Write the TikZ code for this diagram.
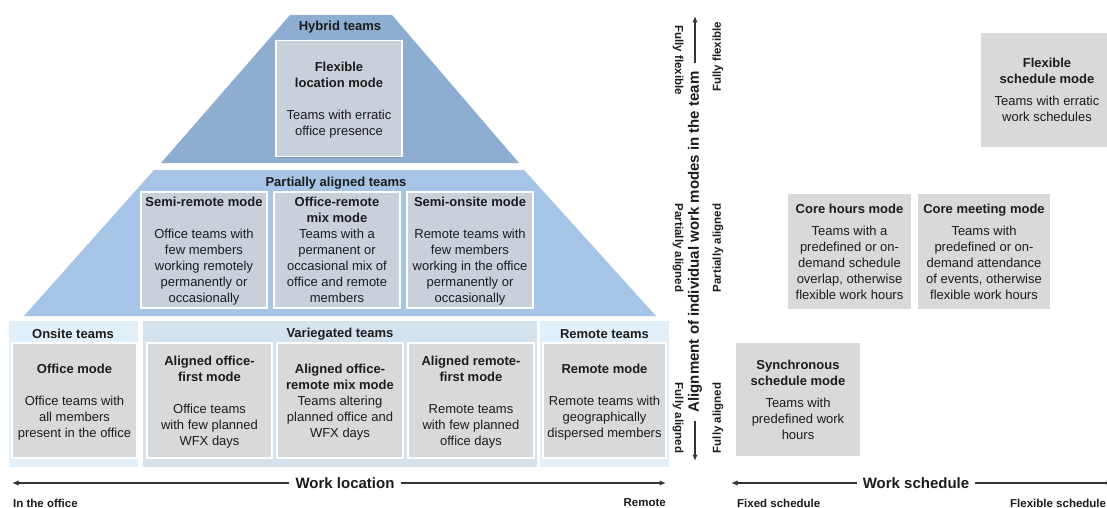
\documentclass[tikz,border=0pt]{standalone}
\usepackage{fontspec}
\setmainfont{Liberation Sans}
\usetikzlibrary{shadows,arrows.meta}

\definecolor{topblue}{HTML}{8DADD1}
\definecolor{midblue}{HTML}{A6C5E6}
\definecolor{palepanel}{HTML}{E1F0FB}
\definecolor{varpanel}{HTML}{D4E2EE}
\definecolor{modeonblue}{HTML}{C8D0D9}
\definecolor{modegray}{HTML}{D8D9DA}
\definecolor{ink}{HTML}{1C1C1C}
\definecolor{axisink}{HTML}{333333}

\tikzset{
  bodyfont/.style={font=\fontsize{13}{16}\selectfont},
  modebox/.style={bodyfont, draw=white, line width=1.2pt, inner sep=0pt,
    minimum width=126pt, minimum height=116pt, align=center, fill=modegray,
    drop shadow={shadow xshift=0.8pt, shadow yshift=-1.4pt, opacity=0.3, fill=black!60}},
  % location modes sit a little lower in their boxes
  locbox/.style={modebox, text depth=-8pt},
  teamtitle/.style={font=\fontsize{13}{16}\selectfont\bfseries, inner sep=0pt},
  axistitle/.style={font=\fontsize{15}{18}\selectfont\bfseries, inner xsep=6pt, inner ysep=0pt},
  sidelabel/.style={font=\fontsize{11.5}{14}\selectfont\bfseries, inner sep=0pt},
  axisarrow/.style={draw=axisink, line width=1.3pt, -{Latex[length=6.5pt,width=5.5pt]}}
}

\begin{document}
\begin{tikzpicture}[x=1pt, y=-1pt, text=ink]
\useasboundingbox (0,0) rectangle (1107,508);
\clip (0,0) rectangle (1107,508);
\fill[white] (0,0) rectangle (1107,508);

% ---------- pyramid of work-location modes ----------
\fill[topblue] (290,15) -- (392,15) -- (519,163) -- (161,163) -- cycle;
\fill[midblue] (154,170) -- (524,170) -- (656,316) -- (24,316) -- cycle;

\node[teamtitle] (hybridT) at (340,27) {Hybrid teams};
\node[locbox, fill=modeonblue] (flexloc) at (339,98.5)
  {\textbf{Flexible}\\\textbf{location mode}\\[16pt]Teams with erratic\\office presence};

\node[teamtitle] (partT) at (336,183) {Partially aligned teams};
\node[locbox, fill=modeonblue] (semiremote) at (204,250)
  {\textbf{Semi-remote mode}\\[16pt]Office teams with\\few members\\working remotely\\permanently or\\occasionally};
\node[locbox, fill=modeonblue] (officeremote) at (337,250)
  {\textbf{Office-remote}\\\textbf{mix mode}\\Teams with a\\permanent or\\occasional mix of\\office and remote\\members};
\node[locbox, fill=modeonblue] (semionsite) at (470,250)
  {\textbf{Semi-onsite mode}\\[16pt]Remote teams with\\few members\\working in the office\\permanently or\\occasionally};

% bottom tier panels
\fill[palepanel] (9,321) rectangle (138,467);
\fill[varpanel] (143,321) rectangle (537,467);
\fill[palepanel] (540,321) rectangle (669,467);

\node[teamtitle] (onsiteT) at (73,334) {Onsite teams};
\node[teamtitle] (varT) at (340,334) {Variegated teams};
\node[teamtitle] (remoteT) at (604.5,334) {Remote teams};

\node[locbox, minimum width=125pt, minimum height=115pt] (office) at (74.5,400.5)
  {\textbf{Office mode}\\[16pt]Office teams with\\all members\\present in the office};
\node[locbox, minimum width=125pt, minimum height=115pt] (alofffirst) at (209.5,400.5)
  {\textbf{Aligned office-}\\\textbf{first mode}\\[16pt]Office teams\\with few planned\\WFX days};
\node[locbox, minimum height=115pt] (almix) at (340,400.5)
  {\textbf{Aligned office-}\\\textbf{remote mix mode}\\Teams altering\\planned office and\\WFX days};
\node[locbox, minimum height=115pt] (alremfirst) at (471,400.5)
  {\textbf{Aligned remote-}\\\textbf{first mode}\\[16pt]Remote teams\\with few planned\\office days};
\node[locbox, minimum width=123pt, minimum height=115pt] (remote) at (604.5,400.5)
  {\textbf{Remote mode}\\[16pt]Remote teams with\\geographically\\dispersed members};

% ---------- work-location axis ----------
\coordinate (locL) at (12,483);
\coordinate (locR) at (666,483);
\node[axistitle] (wloc) at (345,483) {Work location};
\draw[axisarrow] (wloc.west) -- (locL);
\draw[axisarrow] (wloc.east) -- (locR);
\node[sidelabel, anchor=west] (inoffice) at (13,503) {In the office};
\node[sidelabel, anchor=east] (remlab) at (666,503) {Remote};

% ---------- alignment axis ----------
\coordinate (alignTop) at (695,16);
\coordinate (alignBot) at (695,461);
\node[axistitle, rotate=90, inner xsep=8pt] (align) at (695,242)
  {Alignment of individual work modes in the team};
\draw[axisarrow] (align.east) -- (alignTop);
\draw[axisarrow] (align.west) -- (alignBot);

\node[sidelabel, rotate=-90] (lflex) at (678,60) {Fully flexible};
\node[sidelabel, rotate=-90] (lpart) at (678,248) {Partially aligned};
\node[sidelabel, rotate=-90] (lfull) at (678,418) {Fully aligned};
\node[sidelabel, rotate=90] (rflex) at (718,57) {Fully flexible};
\node[sidelabel, rotate=90] (rpart) at (718,248) {Partially aligned};
\node[sidelabel, rotate=90] (rfull) at (718,418) {Fully aligned};

% ---------- work-schedule modes ----------
\node[modebox, minimum width=134pt] (flexsched) at (1047,90)
  {\textbf{Flexible}\\\textbf{schedule mode}\\[6pt]Teams with erratic\\work schedules};
\node[modebox, minimum width=125pt, minimum height=117pt] (corehours) at (849.5,251.5)
  {\textbf{Core hours mode}\\[6pt]Teams with a\\predefined or on-\\demand schedule\\overlap, otherwise\\flexible work hours};
\node[modebox, minimum width=134pt, minimum height=117pt] (coremeet) at (984,251.5)
  {\textbf{Core meeting mode}\\[6pt]Teams with\\predefined or on-\\demand attendance\\of events, otherwise\\flexible work hours};
\node[modebox, minimum height=115pt] (sync) at (798,399.5)
  {\textbf{Synchronous}\\\textbf{schedule mode}\\[6pt]Teams with\\predefined work\\hours};

% ---------- work-schedule axis ----------
\coordinate (schedL) at (731,483);
\coordinate (schedR) at (1113,483);
\node[axistitle] (wsched) at (916,483) {Work schedule};
\draw[axisarrow] (wsched.west) -- (schedL);
\draw[axisarrow] (wsched.east) -- (schedR);
\node[sidelabel, anchor=west] (fixedlab) at (737,503) {Fixed schedule};
\node[sidelabel, anchor=west] (flexlab) at (1010,503) {Flexible schedule};
\end{tikzpicture}
\end{document}
